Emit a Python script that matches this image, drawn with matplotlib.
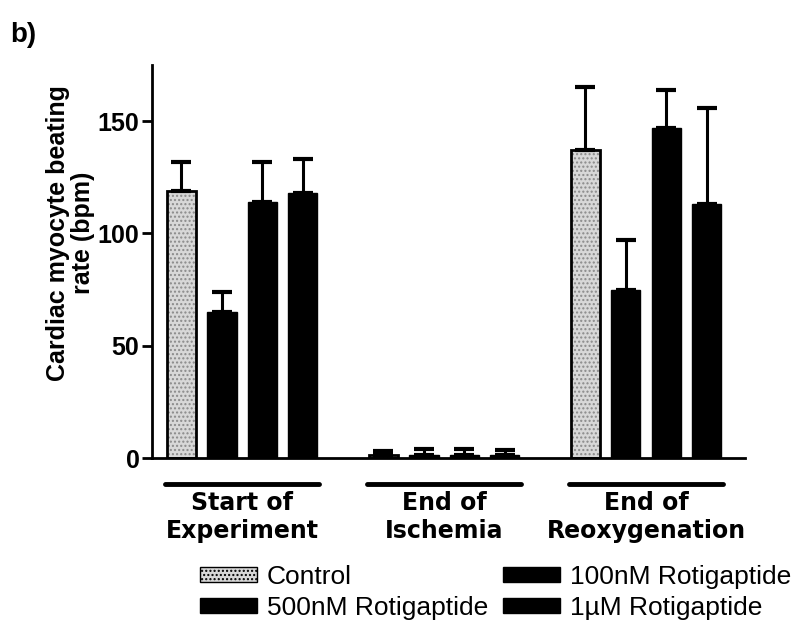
import matplotlib.pyplot as plt
import numpy as np
from matplotlib.patches import Patch

plt.rcParams["font.family"] = ["Liberation Sans", "DejaVu Sans"]

groups = ["Start of\nExperiment", "End of\nIschemia", "End of\nReoxygenation"]
series = ["Control", "500nM Rotigaptide", "100nM Rotigaptide", "1\u00b5M Rotigaptide"]

control = [119, 1.5, 137]
control_err = [13, 1.5, 28]
r500 = [65, 1.5, 75]
r500_err = [9, 2.5, 22]
r100 = [114, 1.5, 147]
r100_err = [18, 2.5, 17]
r1u = [118, 1.5, 113]
r1u_err = [15, 2, 43]

values = [control, r500, r100, r1u]
errors = [control_err, r500_err, r100_err, r1u_err]

fig = plt.figure(figsize=(8.11, 6.27), dpi=100)
ax = fig.add_axes([152 / 811, (627 - 458) / 627, (745 - 152) / 811, 393 / 627])

x = np.arange(len(groups))
offsets = [-0.3, -0.1, 0.1, 0.3]
width = 0.145

for i, (vals, errs) in enumerate(zip(values, errors)):
    xs = x + offsets[i]
    if i == 0:
        ax.bar(xs, vals, width, color="#d8d8d8", edgecolor="#8a8a8a",
               hatch="....", linewidth=0, zorder=2)
        ax.bar(xs, vals, width, fill=False, edgecolor="black", linewidth=2, zorder=3)
    else:
        ax.bar(xs, vals, width, color="black", edgecolor="black", linewidth=1, zorder=2)
    ax.errorbar(xs, vals, yerr=[np.zeros(len(errs)), errs], fmt="none",
                ecolor="black", elinewidth=2.2, capsize=7, capthick=3, zorder=4)

ax.set_xlim(-0.446, 2.49)
ax.set_ylim(0, 175)
ax.set_yticks([0, 50, 100, 150])
ax.set_xticks([])
for s in ["top", "right"]:
    ax.spines[s].set_visible(False)
ax.spines["left"].set_linewidth(2)
ax.spines["bottom"].set_linewidth(2)
ax.tick_params(axis="y", length=7, width=2, labelsize=18, pad=2)
for lab in ax.get_yticklabels():
    lab.set_fontweight("bold")

ax.set_ylabel("Cardiac myocyte beating\nrate (bpm)", fontsize=18,
              fontweight="bold", linespacing=1.05)
ax.yaxis.set_label_coords(-0.096, 0.573)

# group labels with bars under the axis
trans = ax.get_xaxis_transform()
for xi, g in zip(x, groups):
    ax.plot([xi - 0.38, xi + 0.38], [-0.065, -0.065], color="black", lw=3.5,
            solid_capstyle="round", transform=trans, clip_on=False)
    ax.text(xi, -0.085, g, transform=trans, ha="center", va="top",
            fontsize=17, fontweight="bold", linespacing=1.2, family="DejaVu Sans")

fig.text(10 / 811, 1 - 35 / 627, "b)", fontsize=20, fontweight="bold", va="center")

handles = [
    Patch(facecolor="#d8d8d8", edgecolor="black", hatch="....", label=series[0]),
    Patch(facecolor="black", edgecolor="black", label=series[1]),
    Patch(facecolor="black", edgecolor="black", label=series[2]),
    Patch(facecolor="black", edgecolor="black", label=series[3]),
]
fig.legend(handles=handles, loc="upper left", bbox_to_anchor=(200 / 811, 1 - 565 / 627),
           ncol=2, frameon=False, fontsize=19, handlelength=2.15, handleheight=0.48,
           handletextpad=0.38, columnspacing=0.58, labelspacing=0.25,
           borderpad=0, borderaxespad=0)

fig.savefig("out.png", dpi=100)
